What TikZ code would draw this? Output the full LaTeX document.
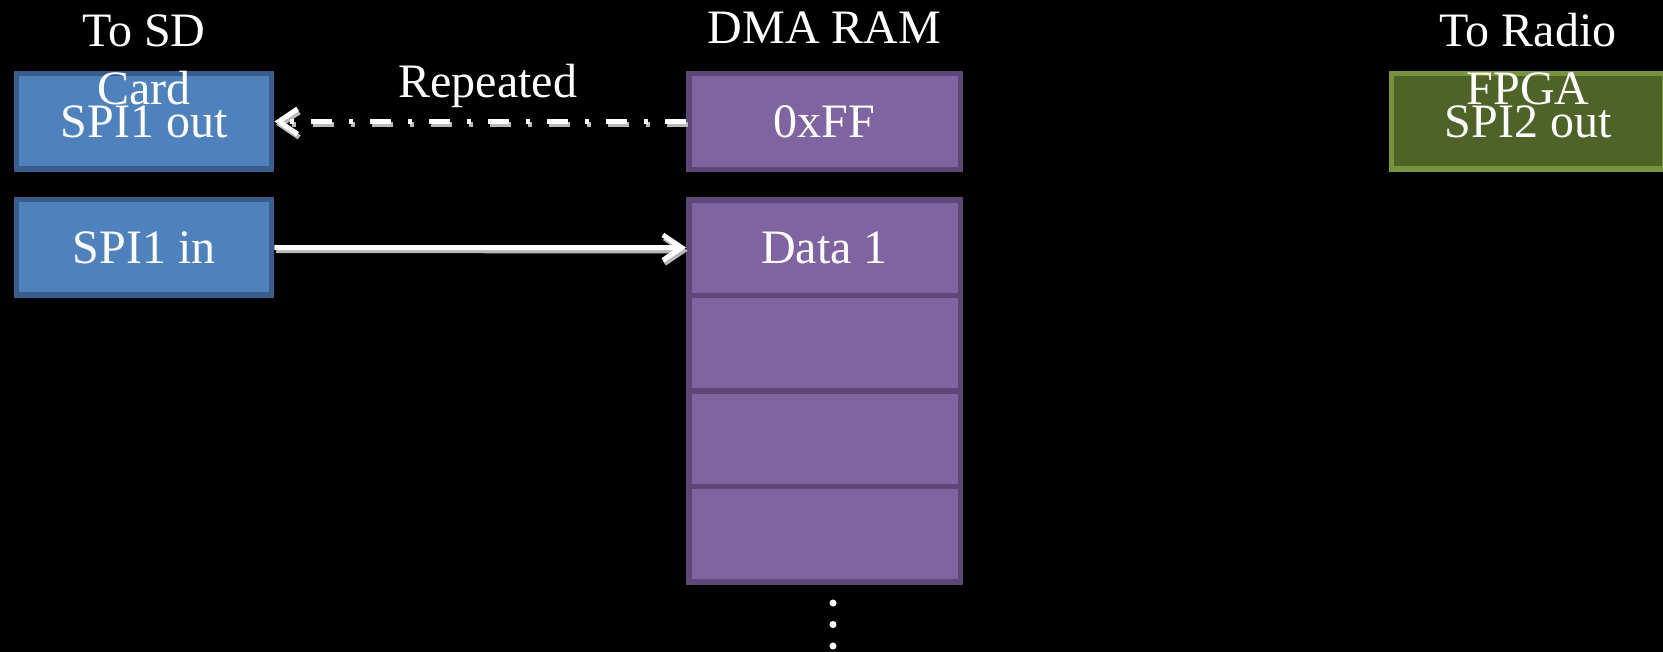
\documentclass[tikz,border=0pt]{standalone}
\usepackage{fontspec}
\setmainfont{Liberation Serif}
\usetikzlibrary{arrows.meta}
\definecolor{bluefill}{HTML}{4F81BD}
\definecolor{blueline}{HTML}{385D8A}
\definecolor{purpfill}{HTML}{8064A2}
\definecolor{purpline}{HTML}{5C4776}
\definecolor{greenfill}{HTML}{4F6228}
\definecolor{greenline}{HTML}{77933C}
\tikzset{
  boxbase/.style={rectangle, line width=4.1pt, inner sep=0pt, text=white,
    font=\fontsize{36}{43.5}\selectfont},
  spibox/.style={boxbase, draw=blueline, fill=bluefill, minimum width=191.6pt, minimum height=71.6pt},
  rambox/.style={boxbase, draw=purpline, fill=purpfill, minimum width=203.6pt, minimum height=71.7pt},
  radiobox/.style={boxbase, draw=greenline, fill=greenfill, minimum width=204.4pt, minimum height=71.6pt},
  titletext/.style={text=white, align=center, inner sep=0pt, anchor=base,
    font=\fontsize{36}{43.5}\selectfont},
  arrowline/.style={draw=white, line width=3.75pt,
    -{Straight Barb[length=14pt,width=19pt]}},
  shadowline/.style={draw=gray!55, line width=3.75pt,
    -{Straight Barb[length=14pt,width=19pt]}, transform canvas={xshift=1.2pt,yshift=-2.4pt}},
  dashdotpat/.style={dash pattern=on 15.75pt off 12.75pt on 3pt off 12.75pt},
  dotmark/.style={circle, fill=white, inner sep=0pt, minimum size=5.3pt},
}
\begin{document}
\begin{tikzpicture}[x=0.75pt,y=-0.75pt]
\useasboundingbox[fill=black] (0,0) rectangle (1663,652);

% boxes
\node[spibox] (spi1out) at (144,121.5) {SPI1 out};
\node[spibox] (spi1in) at (144,247.5) {SPI1 in};
\node[rambox] (ff) at (824.5,121.5) {0xFF};
\node[rambox] (d1) at (824.5,247.6) {Data 1};
\node[rambox] (d2) at (824.5,343.2) {};
\node[rambox] (d3) at (824.5,438.8) {};
\node[rambox] (d4) at (824.5,534.4) {};
\node[radiobox] (spi2out) at (1528,121.5) {SPI2 out};

% titles (base anchor = baseline of last line)
\node[titletext] (tsd) at (144,105) {To SD\\Card};
\node[titletext] (dma) at (824.5,44) {DMA RAM};
\node[titletext] (trad) at (1528,105) {To Radio\\FPGA};

% continuation dots
\node[dotmark] (e1) at (833,603) {};
\node[dotmark] (e2) at (833,624.5) {};
\node[dotmark] (e3) at (833,646) {};

% connectors (shadows first)
\draw[shadowline, dashdotpat] (ff.west) -- (spi1out.east);
\draw[shadowline] (spi1in.east) -- (d1.west);
\draw[arrowline, dashdotpat] (ff.west) -- (spi1out.east)
  node[pos=0.5, anchor=base, xshift=5.6pt, yshift=18pt, text=white, inner sep=0pt,
       font=\fontsize{36}{43.5}\selectfont] (rep) {Repeated};
\draw[arrowline] (spi1in.east) -- (d1.west);
\end{tikzpicture}
\end{document}
